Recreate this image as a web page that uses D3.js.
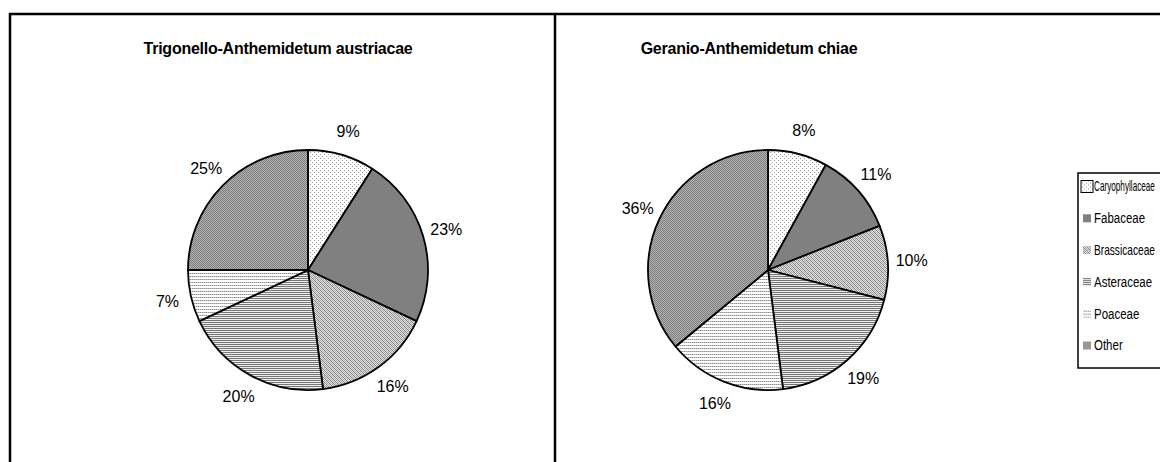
<!DOCTYPE html>
<html>
<head>
<meta charset="utf-8">
<script src="https://cdn.jsdelivr.net/npm/d3@7"></script>
<style>
  html, body { margin: 0; padding: 0; background: #fff; }
  svg { display: block; }
  text { font-family: "Liberation Sans", Arial, sans-serif; fill: #000; }
</style>
</head>
<body>
<svg id="chart" width="1160" height="462"></svg>
<script>
// Plant family shares (%) in two weed associations
const categories = ["Caryophyllaceae", "Fabaceae", "Brassicaceae", "Asteraceae", "Poaceae", "Other"];
const trigonelloValues = [9, 23, 16, 20, 7, 25];
const geranioValues = [8, 11, 10, 19, 16, 36];
const chartTitles = ["Trigonello-Anthemidetum austriacae", "Geranio-Anthemidetum chiae"];
const patternIds = ["pDots", "pSolid", "pDiag", "pHoriz", "pHorizLight", "pCheck"];

const W = 1160, H = 462;
const svg = d3.select("#chart");
const defs = svg.append("defs");

// Monochrome fill textures: background colour plus single-pixel marks
function pattern(id, w, h, bg, pixels) {
  const p = defs.append("pattern")
    .attr("id", id).attr("patternUnits", "userSpaceOnUse")
    .attr("width", w).attr("height", h);
  p.append("rect").attr("width", w).attr("height", h).attr("fill", bg);
  pixels.forEach(([x, y, c]) => p.append("rect").attr("x", x).attr("y", y)
    .attr("width", 1).attr("height", 1).attr("fill", c));
}
pattern("pDots", 4, 4, "#ffffff", [[0, 0, "#9a9a9a"], [2, 2, "#9a9a9a"]]);
pattern("pSolid", 2, 2, "#808080", []);
pattern("pDiag", 4, 4, "#e2e2e2", [
  [0, 0, "#808080"], [1, 1, "#808080"], [2, 2, "#808080"], [3, 3, "#808080"],
  [2, 0, "#a8a8a8"], [3, 1, "#a8a8a8"], [0, 2, "#a8a8a8"], [1, 3, "#a8a8a8"]]);
pattern("pHoriz", 2, 2, "#eeeeee", [[0, 0, "#767676"], [1, 0, "#767676"]]);
pattern("pHorizLight", 2, 3, "#ffffff", [[0, 0, "#8c8c8c"], [1, 0, "#c8c8c8"]]);
pattern("pCheck", 2, 2, "#b4b4b4", [[0, 0, "#7c7c7c"], [1, 1, "#7c7c7c"]]);

// Outer frame and panel divider
const frame = { x: 10, y: 14, split: 555 };
svg.append("rect")
  .attr("x", frame.x).attr("y", frame.y)
  .attr("width", W + 20).attr("height", H + 20)
  .attr("fill", "none").attr("stroke", "#000").attr("stroke-width", 2.5);
svg.append("line")
  .attr("x1", frame.split).attr("x2", frame.split)
  .attr("y1", frame.y).attr("y2", H + 10)
  .attr("stroke", "#000").attr("stroke-width", 2.5);

const radius = 120;
const panels = [
  { title: chartTitles[0], values: trigonelloValues, cx: 308, cy: 270, tx: 278 },
  { title: chartTitles[1], values: geranioValues, cx: 768, cy: 270, tx: 749 }
];

const pie = d3.pie().sort(null).value(d => d.value);
const arc = d3.arc().innerRadius(0).outerRadius(radius);
const labelArc = d3.arc().innerRadius(radius + 24).outerRadius(radius + 24);

panels.forEach(panel => {
  svg.append("text")
    .attr("x", panel.tx).attr("y", 54)
    .attr("text-anchor", "middle")
    .attr("font-size", 16).attr("font-weight", "bold")
    .attr("letter-spacing", -0.25)
    .text(panel.title);

  const data = categories.map((c, i) => ({ name: c, value: panel.values[i], pid: patternIds[i] }));
  const g = svg.append("g").attr("transform", `translate(${panel.cx},${panel.cy})`);
  const arcs = pie(data);

  g.selectAll("path").data(arcs).join("path")
    .attr("d", arc)
    .attr("fill", d => `url(#${d.data.pid})`)
    .attr("stroke", "#000").attr("stroke-width", 1.8)
    .attr("stroke-linejoin", "round");

  g.selectAll("text.lbl").data(arcs).join("text")
    .attr("class", "lbl")
    .attr("transform", d => `translate(${labelArc.centroid(d)})`)
    .attr("text-anchor", "middle")
    .attr("dominant-baseline", "central")
    .attr("font-size", 16)
    .text(d => `${d.data.value}%`);
});

// Legend
const legend = { x: 1078, y: 173, h: 195, step: 31.8, textX: 16, sx: 0.82 };
svg.append("rect")
  .attr("x", legend.x).attr("y", legend.y)
  .attr("width", W - legend.x + 10).attr("height", legend.h)
  .attr("fill", "#fff").attr("stroke", "#000").attr("stroke-width", 1.5);

const rows = svg.selectAll("g.leg").data(categories).join("g")
  .attr("class", "leg")
  .attr("transform", (d, i) => `translate(${legend.x},${legend.y + 13.5 + i * legend.step})`);

rows.append("rect")
  .attr("x", (d, i) => i === 0 ? 3 : 5)
  .attr("y", (d, i) => i === 0 ? -6 : -4)
  .attr("width", (d, i) => i === 0 ? 12 : 8)
  .attr("height", (d, i) => i === 0 ? 12 : 8)
  .attr("fill", (d, i) => `url(#${patternIds[i]})`)
  .attr("stroke", (d, i) => i === 0 ? "#000" : "none")
  .attr("stroke-width", 1);

// Narrow legend type; each label is squeezed further if it would run past the right edge
const room = W - 5 - legend.x - legend.textX;
rows.append("text")
  .attr("dominant-baseline", "central")
  .attr("font-size", 14)
  .text(d => d)
  .each(function () {
    const sx = Math.min(legend.sx, room / this.getComputedTextLength());
    d3.select(this).attr("transform", `translate(${legend.textX},0) scale(${sx},1)`);
  });
</script>
</body>
</html>
